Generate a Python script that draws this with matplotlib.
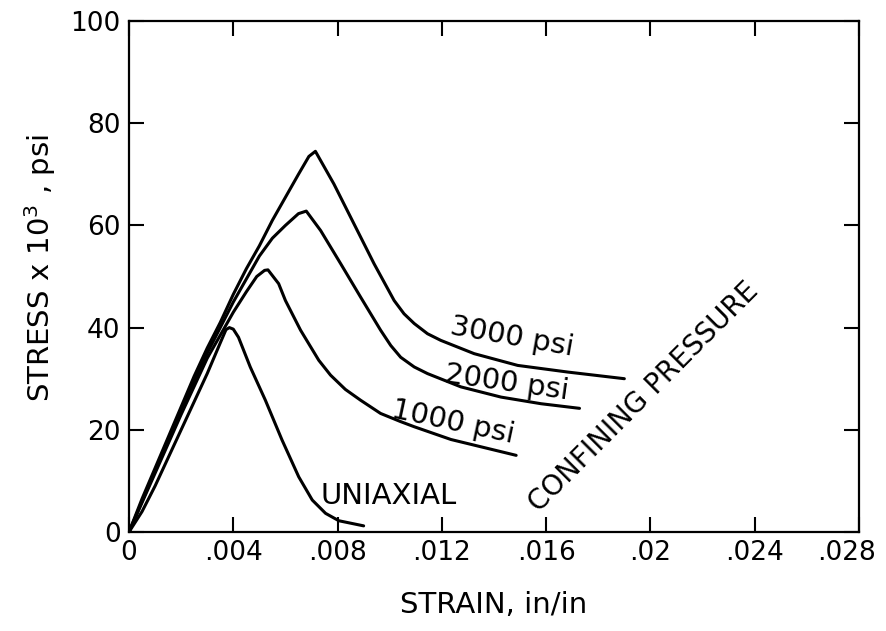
import matplotlib
matplotlib.use("Agg")
import matplotlib.pyplot as plt
from matplotlib.transforms import ScaledTranslation

plt.rcParams['font.family'] = ['DejaVu Sans']
plt.rcParams['mathtext.default'] = 'regular'

# strain (in/in) and stress (x 10^3 psi)
uniaxial_x = [0, 0.0005, 0.001, 0.0015, 0.002, 0.0025, 0.003, 0.0035, 0.00372, 0.00385,
              0.0040, 0.0042, 0.00465, 0.00523, 0.00587, 0.00651, 0.00703, 0.00754, 0.00805, 0.009]
uniaxial_y = [0, 4, 9, 14.5, 20, 25.5, 31, 37, 39.6, 40,
              39.7, 38.1, 32.3, 25.8, 18, 10.8, 6.25, 3.65, 2.2, 1.2]

p1000_x = [0, 0.001, 0.002, 0.003, 0.0035, 0.004, 0.0045, 0.0049, 0.0052, 0.00533,
           0.00574, 0.006, 0.00658, 0.00728, 0.00773, 0.0083, 0.00888, 0.00965, 0.01042,
           0.01094, 0.01235, 0.01485]
p1000_y = [0, 11.5, 23, 34, 38.5, 43, 47, 50, 51.2, 51.3,
           48.6, 45.3, 39.5, 33.6, 30.7, 27.9, 25.8, 23.2, 21.6,
           20.6, 18.1, 15.0]

p2000_x = [0, 0.001, 0.002, 0.003, 0.0035, 0.004, 0.0045, 0.005, 0.0055, 0.006, 0.0065, 0.0068,
           0.00735, 0.00812, 0.00888, 0.00965, 0.01004, 0.01042, 0.01094, 0.01145, 0.01273,
           0.01427, 0.01581, 0.01728]
p2000_y = [0, 12, 24, 35, 40, 45, 49.5, 54, 57.5, 60, 62.3, 62.8,
           59.0, 52.5, 46.0, 39.5, 36.5, 34.2, 32.3, 31.0, 28.4,
           26.4, 25.1, 24.2]

p3000_x = [0, 0.0005, 0.001, 0.0015, 0.002, 0.0025, 0.003, 0.0035, 0.004, 0.0045, 0.005, 0.0055,
           0.006, 0.0065, 0.0069, 0.00715,
           0.00786, 0.00863, 0.0094, 0.01017, 0.01055, 0.01094, 0.01145, 0.01196, 0.01324,
           0.01491, 0.01683, 0.019]
p3000_y = [0, 6.5, 12.5, 18.5, 24.5, 30.5, 36, 41, 46.5, 51.5, 56, 61,
           65.5, 70, 73.5, 74.5,
           68.1, 60.3, 52.5, 45.3, 42.7, 40.8, 38.8, 37.5, 34.9,
           32.6, 31.3, 30.0]

x_ticks = [0, 0.004, 0.008, 0.012, 0.016, 0.02, 0.024, 0.028]
x_tick_labels = ["0", ".004", ".008", ".012", ".016", ".02", ".024", ".028"]
y_ticks = [0, 20, 40, 60, 80, 100]


fig = plt.figure(figsize=(8.86, 6.31), dpi=100)
ax = fig.add_axes([0.1456, 0.1569, 0.8239, 0.8098])

for xs, ys in [(uniaxial_x, uniaxial_y), (p1000_x, p1000_y), (p2000_x, p2000_y), (p3000_x, p3000_y)]:
    ax.plot(xs, ys, color="black", lw=2.2, solid_joinstyle="round", solid_capstyle="round")

ax.set_xlim(0, 0.028)
ax.set_ylim(0, 100)
ax.set_xticks(x_ticks)
ax.set_xticklabels(x_tick_labels)
ax.set_yticks(y_ticks)

ax.tick_params(direction="in", length=11, width=1.5, top=True, right=True,
               labelsize=19, pad=6, colors="black")
for s in ax.spines.values():
    s.set_linewidth(1.6)

# last x label sits a bit left so it stays inside the figure
last = ax.get_xticklabels()[-1]
last.set_transform(last.get_transform() + ScaledTranslation(-9 / 72, 0, fig.dpi_scale_trans))

ax.set_xlabel("STRAIN, in/in", fontsize=21, labelpad=18)
ax.set_ylabel("STRESS x 10$^{3}$ , psi", fontsize=21)
ax.yaxis.set_label_coords(-0.097, 0.517)

# curve annotations
ax.text(0.00996, 7.0, "UNIAXIAL", fontsize=21, ha="center", va="center")
ax.text(0.01242, 21.5, "1000 psi", fontsize=21, ha="center", va="center", rotation=-12)
ax.text(0.0145, 29.1, "2000 psi", fontsize=21, ha="center", va="center", rotation=-8)
ax.text(0.0147, 38.1, "3000 psi", fontsize=21, ha="center", va="center", rotation=-10)
ax.text(0.01973, 26.4, "CONFINING PRESSURE", fontsize=20, ha="center", va="center", rotation=45)

fig.savefig("out.png", dpi=100)
